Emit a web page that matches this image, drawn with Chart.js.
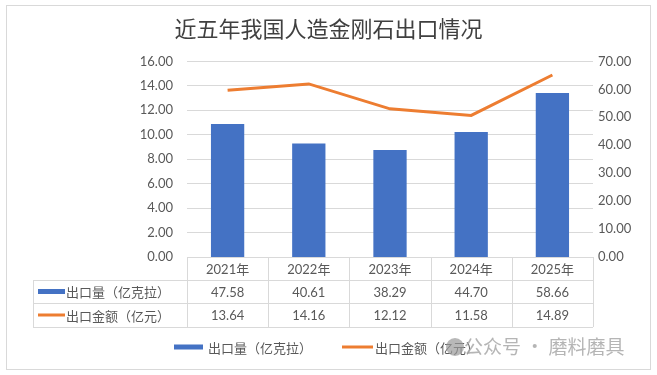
<!DOCTYPE html>
<html>
<head>
<meta charset="utf-8">
<script src="https://cdn.jsdelivr.net/npm/chart.js@4"></script>
<style>
html,body{margin:0;padding:0;background:#fff;}
#wrap{width:657px;height:375px;position:relative;}
</style>
</head>
<body>
<div id="wrap"><canvas id="c" width="657" height="375"></canvas></div>
<script>
const titleText = '近五年我国人造金刚石出口情况';
const years = ['2021年', '2022年', '2023年', '2024年', '2025年'];
const volumeLabel = '出口量（亿克拉）';
const amountLabel = '出口金额（亿元）';
const volume = [47.58, 40.61, 38.29, 44.70, 58.66];
const amount = [13.64, 14.16, 12.12, 11.58, 14.89];
const leftTicks = [0, 2, 4, 6, 8, 10, 12, 14, 16];
const rightTicks = [0, 10, 20, 30, 40, 50, 60, 70];
const watermark = '公众号 · 磨料磨具';

const BLUE = '#4472C4';
const ORANGE = '#ED7D31';
const GRID = '#d9d9d9';
const TXT = '#595959';
const NUMFONT = 'Lato, "Noto Sans CJK SC", sans-serif';
const CJKFONT = '"Noto Sans CJK SC", sans-serif';

const tablePlugin = {
  id: 'tablePlugin',
  beforeDraw(chart) {
    const ctx = chart.ctx;
    ctx.save();
    ctx.fillStyle = '#fff';
    ctx.fillRect(0, 0, chart.width, chart.height);
    ctx.strokeStyle = GRID;
    ctx.lineWidth = 1;
    ctx.strokeRect(6.5, 5.5, 644, 364);
    ctx.restore();
  },
  afterDraw(chart) {
    const ctx = chart.ctx;
    const x = chart.scales.x;
    const area = chart.chartArea;
    const n = years.length;
    const cw = (area.right - area.left) / n;
    const left0 = 33;
    const rTop = area.bottom;
    const rows = [rTop, rTop + 23, rTop + 46, rTop + 70];
    ctx.save();
    ctx.strokeStyle = GRID;
    ctx.lineWidth = 1;
    ctx.beginPath();
    ctx.moveTo(area.left, Math.round(rows[0]) + 0.5);
    ctx.lineTo(area.right, Math.round(rows[0]) + 0.5);
    for (let r = 1; r < 4; r++) {
      ctx.moveTo(left0, Math.round(rows[r]) + 0.5);
      ctx.lineTo(area.right, Math.round(rows[r]) + 0.5);
    }
    for (let i = 0; i <= n; i++) {
      const px = Math.round(i < n ? x.getPixelForValue(i) - cw / 2 : x.getPixelForValue(n - 1) + cw / 2) + 0.5;
      ctx.moveTo(px, rows[0]);
      ctx.lineTo(px, rows[3]);
    }
    ctx.moveTo(left0 + 0.5, rows[1]);
    ctx.lineTo(left0 + 0.5, rows[3]);
    ctx.stroke();

    ctx.fillStyle = TXT;
    ctx.textAlign = 'center';
    ctx.textBaseline = 'middle';
    ctx.font = '13px ' + NUMFONT;
    for (let i = 0; i < n; i++) {
      const cx = x.getPixelForValue(i);
      ctx.fillText(years[i], cx, (rows[0] + rows[1]) / 2 + 1);
      ctx.fillText(volume[i].toFixed(2), cx, (rows[1] + rows[2]) / 2 + 1);
      ctx.fillText(amount[i].toFixed(2), cx, (rows[2] + rows[3]) / 2 + 1);
    }
    const y1 = (rows[1] + rows[2]) / 2;
    const y2 = (rows[2] + rows[3]) / 2;
    ctx.fillStyle = BLUE;
    ctx.fillRect(38, y1 - 2.5, 27, 5);
    ctx.strokeStyle = ORANGE;
    ctx.lineWidth = 3;
    ctx.beginPath();
    ctx.moveTo(38, y2);
    ctx.lineTo(65, y2);
    ctx.stroke();
    ctx.fillStyle = TXT;
    ctx.textAlign = 'left';
    ctx.font = '13px ' + CJKFONT;
    ctx.fillText(volumeLabel, 66, y1 + 1);
    ctx.fillText(amountLabel, 66, y2 + 1);

    const ly = 347;
    ctx.fillStyle = BLUE;
    ctx.fillRect(174, ly - 2.5, 29, 5);
    ctx.fillStyle = TXT;
    ctx.fillText(volumeLabel, 208, ly + 1);
    ctx.strokeStyle = ORANGE;
    ctx.lineWidth = 3;
    ctx.beginPath();
    ctx.moveTo(342, ly);
    ctx.lineTo(373, ly);
    ctx.stroke();
    ctx.fillText(amountLabel, 375, ly + 1);

    ctx.globalAlpha = 0.7;
    ctx.fillStyle = '#9a9a9a';
    ctx.beginPath();
    ctx.arc(455, 347, 9, 0, Math.PI * 2);
    ctx.fill();
    ctx.globalAlpha = 0.85;
    ctx.fillStyle = '#a8a8a8';
    ctx.font = '19px ' + CJKFONT;
    ctx.fillText(watermark, 464, ly);
    ctx.restore();
  }
};

new Chart(document.getElementById('c'), {
  type: 'bar',
  data: {
    labels: years,
    datasets: [
      {
        type: 'line',
        label: amountLabel,
        data: amount,
        yAxisID: 'y',
        borderColor: ORANGE,
        backgroundColor: ORANGE,
        borderWidth: 3,
        pointRadius: 0,
        tension: 0,
        order: 0
      },
      {
        type: 'bar',
        label: volumeLabel,
        data: volume,
        yAxisID: 'y1',
        backgroundColor: BLUE,
        categoryPercentage: 1,
        barPercentage: 0.41,
        order: 1
      }
    ]
  },
  options: {
    responsive: false,
    animation: false,
    events: [],
    layout: { padding: { left: 0, right: 0, top: 0, bottom: 118 } },
    plugins: {
      legend: { display: false },
      tooltip: { enabled: false },
      title: {
        display: true,
        text: titleText,
        color: '#404040',
        font: { size: 22, family: CJKFONT, weight: 'normal' },
        padding: { top: 15, bottom: 20 }
      }
    },
    scales: {
      x: { display: false },
      y: {
        position: 'left',
        min: 0, max: 16,
        afterBuildTicks(s) { s.ticks = leftTicks.map(v => ({ value: v })); },
        afterFit(s) { s.width = 187; },
        ticks: {
          color: TXT, padding: 14,
          font: { size: 13, family: NUMFONT },
          callback: v => Number(v).toFixed(2)
        },
        grid: { color: GRID, drawTicks: false },
        border: { display: false }
      },
      y1: {
        position: 'right',
        min: 0, max: 70,
        afterBuildTicks(s) { s.ticks = rightTicks.map(v => ({ value: v })); },
        afterFit(s) { s.width = 64; },
        ticks: {
          color: TXT, padding: 5,
          font: { size: 13, family: NUMFONT },
          callback: v => Number(v).toFixed(2)
        },
        grid: { display: false, drawTicks: false },
        border: { display: false }
      }
    }
  },
  plugins: [tablePlugin]
});
</script>
</body>
</html>
